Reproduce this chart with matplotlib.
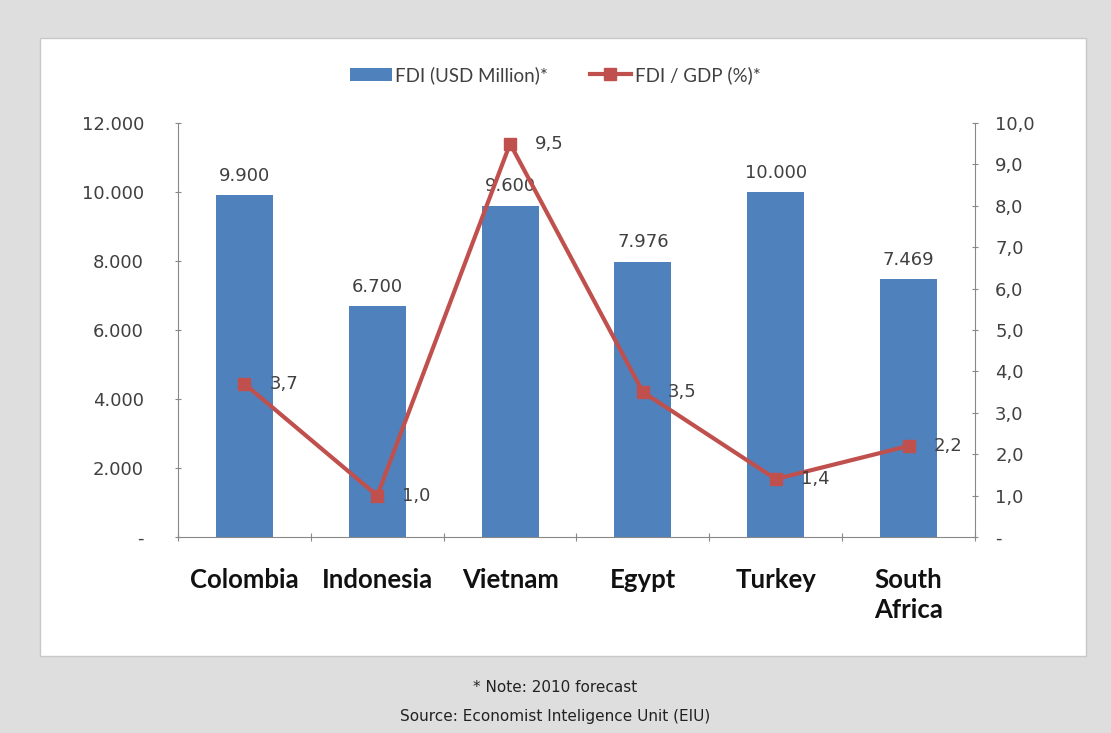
"""FDI bars with FDI/GDP line on a twin axis, Excel-style."""

import matplotlib

matplotlib.use("Agg")
import matplotlib.pyplot as plt
import numpy as np
from matplotlib.patches import Rectangle
from matplotlib.ticker import FuncFormatter

countries = ["Colombia", "Indonesia", "Vietnam", "Egypt", "Turkey", "South\nAfrica"]
fdi_usd_million = [9900, 6700, 9600, 7976, 10000, 7469]
fdi_gdp_pct = [3.7, 1.0, 9.5, 3.5, 1.4, 2.2]

bar_color = "#4f81bd"
line_color = "#c0504d"
text_color = "#404040"


def thousands_dot(v, _pos=None):
    if v == 0:
        return "-"
    return f"{int(round(v)):,}".replace(",", ".")


def decimal_comma(v, _pos=None):
    if v == 0:
        return "-"
    return f"{v:.1f}".replace(".", ",")


fig = plt.figure(figsize=(11.11, 7.33), dpi=100, facecolor="#dedede")
# white chart panel
fig.patches.append(Rectangle((40 / 1111, (733 - 656) / 733), 1046 / 1111, 618 / 733,
                             transform=fig.transFigure, facecolor="white",
                             edgecolor="#c8c8c8", linewidth=1.0, zorder=-5))

ax = fig.add_axes([178 / 1111, (733 - 537) / 733, 797 / 1111, 414 / 733])
ax.set_facecolor("none")
x = np.arange(len(countries))
bars = ax.bar(x, fdi_usd_million, width=0.43, color=bar_color, label="FDI (USD Million)*", zorder=2)
ax.set_xlim(-0.5, len(countries) - 0.5)
ax.set_ylim(0, 12000)
ax.set_yticks(np.arange(0, 12001, 2000))
ax.yaxis.set_major_formatter(FuncFormatter(thousands_dot))
ax.set_xticks(np.arange(-0.5, len(countries), 1.0), minor=False)
ax.set_xticklabels([])
ax.set_xticks(x, minor=True)
ax.set_xticklabels(countries, minor=True, fontsize=18.5, fontweight="bold", color="#111111",
                   family=["Lato", "DejaVu Sans"], linespacing=1.3)
ax.tick_params(axis="x", which="minor", length=0, pad=22)
ax.tick_params(axis="x", which="major", length=6, color="#888888", direction="inout")
ax.tick_params(axis="y", length=5, color="#888888", direction="inout", labelsize=13,
               labelcolor=text_color, pad=22)
for side in ["top", "right"]:
    ax.spines[side].set_visible(False)
ax.spines["left"].set_color("#888888")
ax.spines["bottom"].set_color("#888888")

for xi, v in zip(x, fdi_usd_million):
    ax.text(xi, v + 300, thousands_dot(v), ha="center", va="bottom", fontsize=13, color=text_color)

ax2 = ax.twinx()
ax2.set_ylim(0, 10)
ax2.set_yticks(np.arange(0, 10.01, 1.0))
ax2.yaxis.set_major_formatter(FuncFormatter(decimal_comma))
ax2.plot(x, fdi_gdp_pct, color=line_color, linewidth=3, marker="s", markersize=9,
         label="FDI / GDP (%)*", zorder=3)
ax2.tick_params(axis="y", length=5, color="#888888", direction="inout", labelsize=13,
                labelcolor=text_color, pad=12)
for side in ["top", "left", "bottom"]:
    ax2.spines[side].set_visible(False)
ax2.spines["right"].set_color("#888888")

for xi, v in zip(x, fdi_gdp_pct):
    ax2.text(xi + 0.19, v, decimal_comma(v), ha="left", va="center", fontsize=13,
             color=text_color)

handles = [bars, ax2.get_lines()[0]]
fig.legend(handles, [h.get_label() for h in handles], loc="center", ncol=2,
           bbox_to_anchor=(0.5, (733 - 75) / 733), frameon=False,
           handlelength=2.2, handletextpad=0.2, columnspacing=2.2, labelcolor=text_color,
           prop={"family": ["Lato", "DejaVu Sans"], "size": 13.5})

fig.text(0.5, (733 - 688) / 733, "* Note: 2010 forecast", ha="center", va="center",
         fontsize=11, color="#222222")
fig.text(0.5, (733 - 717) / 733, "Source: Economist Inteligence Unit (EIU)", ha="center",
         va="center", fontsize=11, color="#222222")

fig.savefig("out.png", dpi=100, facecolor=fig.get_facecolor())
